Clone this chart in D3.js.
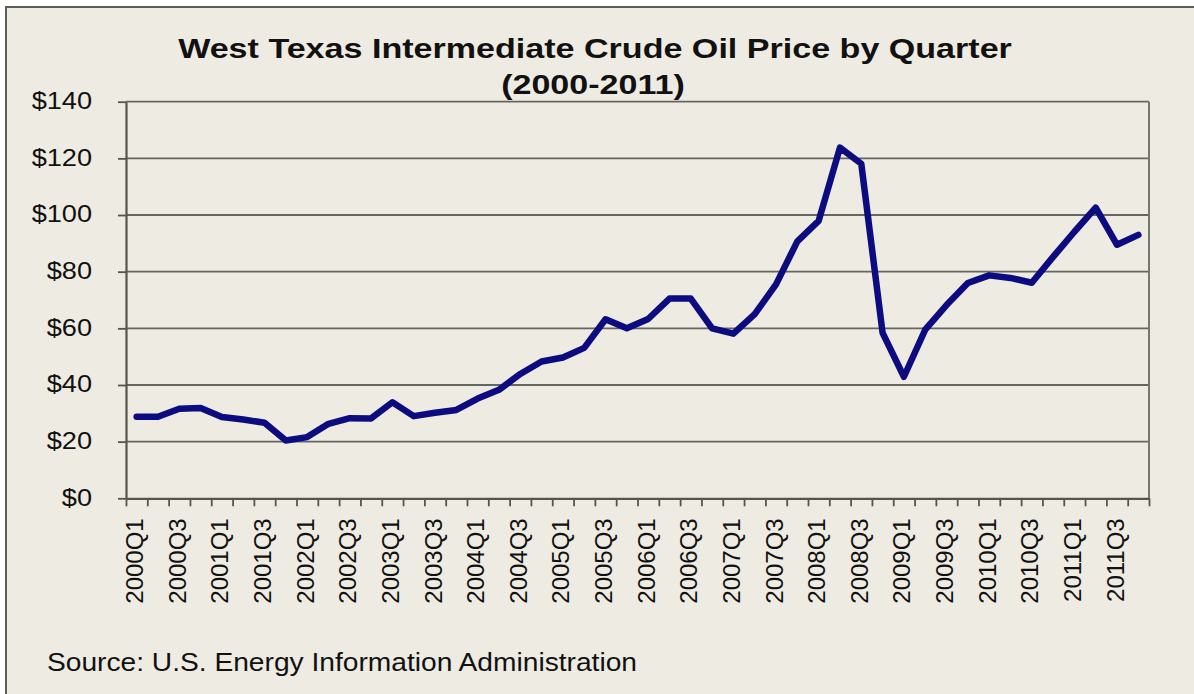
<!DOCTYPE html>
<html>
<head>
<meta charset="utf-8">
<script src="https://cdn.jsdelivr.net/npm/d3@7"></script>
<style>
  html, body { margin: 0; padding: 0; background: #ffffff; }
  svg { display: block; }
  text { font-family: "Liberation Sans", Arial, Helvetica, sans-serif; fill: #111; }
</style>
</head>
<body>
<svg id="chart" width="1194" height="694"></svg>
<script>
// ---- data ----
const categories = [
  "2000Q1","2000Q2","2000Q3","2000Q4",
  "2001Q1","2001Q2","2001Q3","2001Q4",
  "2002Q1","2002Q2","2002Q3","2002Q4",
  "2003Q1","2003Q2","2003Q3","2003Q4",
  "2004Q1","2004Q2","2004Q3","2004Q4",
  "2005Q1","2005Q2","2005Q3","2005Q4",
  "2006Q1","2006Q2","2006Q3","2006Q4",
  "2007Q1","2007Q2","2007Q3","2007Q4",
  "2008Q1","2008Q2","2008Q3","2008Q4",
  "2009Q1","2009Q2","2009Q3","2009Q4",
  "2010Q1","2010Q2","2010Q3","2010Q4",
  "2011Q1","2011Q2","2011Q3","2011Q4"
];
const prices = [
  28.8, 28.8, 31.6, 31.9,
  28.7, 27.8, 26.7, 20.4,
  21.6, 26.3, 28.3, 28.2,
  33.9, 29.0, 30.2, 31.2,
  35.2, 38.3, 43.9, 48.3,
  49.7, 53.1, 63.2, 60.0,
  63.3, 70.5, 70.5, 60.0,
  58.1, 65.0, 75.5, 90.7,
  97.9, 123.8, 118.1, 58.4,
  42.9, 59.5, 68.2, 76.0,
  78.7, 77.8, 76.1, 85.2,
  94.1, 102.6, 89.5, 93.0
];
const xTickLabels = categories.filter((d, i) => i % 2 === 0 && i < 47);
const yTickValues = [0, 20, 40, 60, 80, 100, 120, 140];
const titleLines = ["West Texas Intermediate Crude Oil Price by Quarter", "(2000-2011)"];
const sourceText = "Source: U.S. Energy Information Administration";

// ---- layout ----
const W = 1194, H = 694;
const plot = { left: 126, right: 1149, top: 101.7, bottom: 498.3 };

const svg = d3.select("#chart");

// background panel with border
svg.append("rect")
  .attr("x", 6).attr("y", 7)
  .attr("width", W + 10).attr("height", H + 10)
  .attr("fill", "#EEEBE2")
  .attr("stroke", "#5d5d58")
  .attr("stroke-width", 2);

// scales
const y = d3.scaleLinear().domain([0, 140]).range([plot.bottom, plot.top]);
const xBand = d3.scaleBand().domain(categories).range([plot.left, plot.right]).padding(0);
const xEdge = d3.scaleLinear().domain([0, categories.length]).range([plot.left, plot.right]);

// gridlines
svg.append("g")
  .selectAll("line")
  .data(yTickValues.filter(v => v > 0))
  .join("line")
  .attr("x1", plot.left).attr("x2", plot.right)
  .attr("y1", d => y(d)).attr("y2", d => y(d))
  .attr("stroke", "#666660")
  .attr("stroke-width", 1.8);

// right border of plot area
svg.append("line")
  .attr("x1", plot.right).attr("x2", plot.right)
  .attr("y1", plot.top).attr("y2", plot.bottom)
  .attr("stroke", "#77776f").attr("stroke-width", 2);

// y axis
const yAxis = svg.append("g")
  .attr("transform", `translate(${plot.left},0)`)
  .call(d3.axisLeft(y).tickValues(yTickValues).tickSize(8).tickSizeOuter(0)
    .tickFormat(d => "$" + d));
yAxis.select(".domain").attr("stroke", "#55554f").attr("stroke-width", 2.2);
yAxis.selectAll(".tick line").attr("stroke", "#55554f").attr("stroke-width", 1.8);
yAxis.selectAll(".tick text")
  .attr("x", null).attr("dy", null)
  .attr("transform", "translate(-34,6.8) scale(1.16,1)")
  .attr("text-anchor", "end")
  .style("font-size", "23.4px")
  .style("fill", "#111");

// x axis: boundary tick marks
const xAxis = svg.append("g")
  .attr("transform", `translate(0,${plot.bottom})`)
  .call(d3.axisBottom(xEdge).tickValues(d3.range(categories.length + 1))
    .tickSize(8).tickSizeOuter(0).tickFormat(""));
xAxis.select(".domain").attr("stroke", "#55554f").attr("stroke-width", 2.2);
xAxis.selectAll(".tick line").attr("stroke", "#55554f").attr("stroke-width", 1.8);

// x axis: rotated category labels
const xLab = svg.append("g")
  .attr("transform", `translate(0,${plot.bottom})`)
  .call(d3.axisBottom(xBand).tickValues(xTickLabels).tickSize(0));
xLab.select(".domain").remove();
xLab.selectAll(".tick text")
  .attr("y", 0)
  .attr("x", -20)
  .attr("dy", "0.27em")
  .attr("transform", "rotate(-90)")
  .attr("text-anchor", "end")
  .style("font-size", "24px")
  .style("fill", "#111");

// the price line
const line = d3.line()
  .x((d, i) => xBand(categories[i]) + xBand.bandwidth() / 2)
  .y(d => y(d));
svg.append("path")
  .datum(prices)
  .attr("d", line)
  .attr("fill", "none")
  .attr("stroke", "#0c0c80")
  .attr("stroke-width", 6.5)
  .attr("stroke-linejoin", "round")
  .attr("stroke-linecap", "round");

// title
svg.append("text")
  .attr("transform", "translate(595,57.7) scale(1.2,1)")
  .attr("text-anchor", "middle")
  .style("font-size", "28.4px").style("font-weight", "bold")
  .text(titleLines[0]);
svg.append("text")
  .attr("transform", "translate(593,94) scale(1.2,1)")
  .attr("text-anchor", "middle")
  .style("font-size", "28.4px").style("font-weight", "bold")
  .text(titleLines[1]);

// source
svg.append("text")
  .attr("transform", "translate(47,670.7) scale(1.1,1)")
  .style("font-size", "25.6px")
  .text(sourceText);
</script>
</body>
</html>
